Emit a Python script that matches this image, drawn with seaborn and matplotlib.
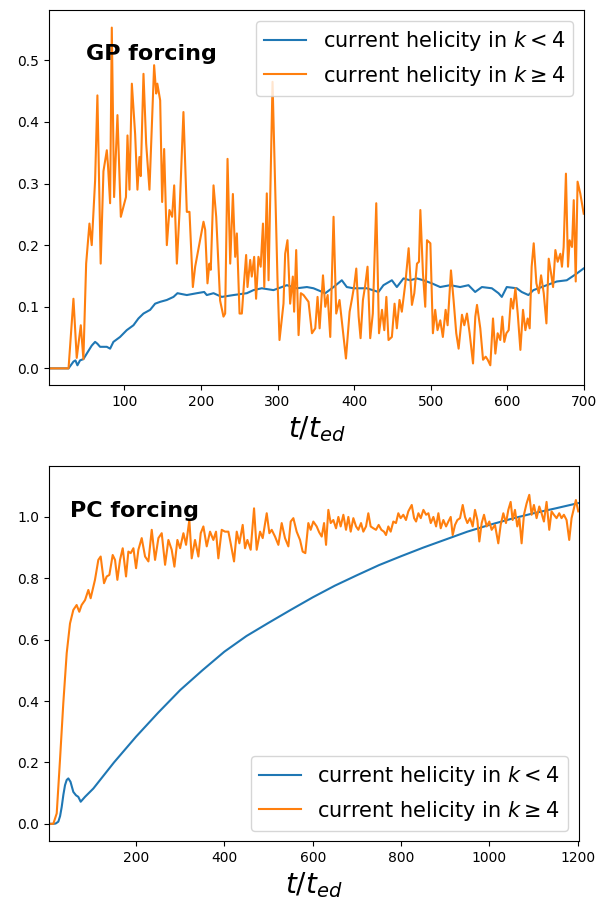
import matplotlib
matplotlib.use("Agg")
import matplotlib.pyplot as plt
import seaborn as sns
import pandas as pd

# ---- GP forcing run: (t/t_ed, current helicity) ----
gp_small_k = [
    (1.5, 0.0), (10, 0.0), (20, 0.0), (27, 0.0), (33.4, 0.011), (36, 0.013), (38.6, 0.005),
    (42, 0.013), (46.4, 0.015), (50.8, 0.024), (57.3, 0.037), (61.7, 0.043), (64.7, 0.040),
    (68.2, 0.035), (77, 0.035), (81.3, 0.032), (85.6, 0.043), (94.3, 0.051), (103, 0.062),
    (111.8, 0.070), (118.3, 0.081), (124.9, 0.089), (133.6, 0.095), (140.1, 0.105),
    (146.7, 0.108), (155.4, 0.111), (164.1, 0.116), (169.3, 0.122), (181.5, 0.119),
    (194.6, 0.122), (204.2, 0.124), (207.6, 0.119), (216.4, 0.122), (227.2, 0.116),
    (242.5, 0.119), (259.9, 0.122), (268.6, 0.127), (279.5, 0.130), (294.7, 0.127),
    (312.2, 0.135), (325.2, 0.130), (338.4, 0.132), (347, 0.130), (362.4, 0.122),
    (373.2, 0.132), (384, 0.143), (390.5, 0.132), (399.3, 0.130), (416.7, 0.130),
    (431.9, 0.124), (438.4, 0.135), (449.4, 0.143), (455.9, 0.132), (464.6, 0.146),
    (473.2, 0.143), (482, 0.146), (490.6, 0.143), (501.6, 0.138), (512.5, 0.132),
    (525.5, 0.135), (538.6, 0.132), (549.5, 0.135), (558.2, 0.124), (567, 0.132),
    (580, 0.130), (588.7, 0.122), (593, 0.116), (599.5, 0.132), (612.6, 0.130),
    (619, 0.124), (627.8, 0.119), (634.3, 0.127), (651.7, 0.135), (664.8, 0.141),
    (677.9, 0.143), (691, 0.154), (699.7, 0.162),
]

gp_large_k = [
    (1.5, 0.0), (10, 0.0), (20, 0.0), (27, 0.0), (33.4, 0.113), (37.7, 0.017), (43, 0.070),
    (46.4, 0.015), (50, 0.170), (54.3, 0.235), (57.3, 0.200), (61.7, 0.305), (64.7, 0.443),
    (69, 0.170), (72.6, 0.320), (77, 0.354), (78.5, 0.330), (81.3, 0.268), (83.5, 0.553),
    (86.5, 0.278), (90.9, 0.411), (95.3, 0.246), (102, 0.278), (104, 0.378), (106.6, 0.290),
    (109.7, 0.462), (114, 0.380), (117, 0.290), (119.6, 0.343), (121.3, 0.312),
    (124.9, 0.478), (128.4, 0.365), (132.7, 0.290), (138.8, 0.492), (141.5, 0.446),
    (143, 0.462), (146.7, 0.435), (149.3, 0.270), (151.9, 0.356), (155.4, 0.200),
    (158.8, 0.257), (162.3, 0.246), (165, 0.297), (168.5, 0.170), (172, 0.254),
    (177.1, 0.416), (181.5, 0.254), (185, 0.254), (189.4, 0.132), (192.4, 0.165),
    (203.3, 0.238), (205.5, 0.225), (208.5, 0.138), (211, 0.170), (212.8, 0.160),
    (216.4, 0.297), (219.9, 0.246), (225, 0.110), (229.4, 0.084), (231.6, 0.089),
    (234.7, 0.340), (238.2, 0.170), (241.7, 0.283), (244.7, 0.181), (246.9, 0.219),
    (250.4, 0.089), (253.4, 0.089), (256.5, 0.143), (259, 0.184), (260.8, 0.132),
    (264.3, 0.176), (266.4, 0.149), (269.5, 0.181), (272, 0.113), (275.1, 0.181),
    (278, 0.165), (281, 0.235), (282.7, 0.132), (286, 0.284), (288.3, 0.143),
    (293.5, 0.465), (297, 0.292), (300, 0.143), (302.6, 0.046), (307.8, 0.105),
    (310, 0.186), (313, 0.208), (316.5, 0.105), (320, 0.149), (321.7, 0.092),
    (324.4, 0.192), (327.5, 0.054), (330.5, 0.122), (334, 0.119), (340.5, 0.108),
    (345, 0.057), (349.3, 0.065), (352.3, 0.116), (355, 0.065), (359.4, 0.151),
    (362.4, 0.100), (365.5, 0.119), (368.9, 0.051), (373.2, 0.246), (376.7, 0.089),
    (381, 0.111), (385.4, 0.062), (389.4, 0.016), (394.2, 0.092), (397.3, 0.113),
    (400.3, 0.135), (402.9, 0.162), (406, 0.084), (408.5, 0.049), (411.6, 0.111),
    (414.6, 0.135), (417.6, 0.165), (421.1, 0.049), (424.5, 0.089), (429, 0.268),
    (432.6, 0.057), (436.5, 0.095), (439.5, 0.062), (442.2, 0.116), (445, 0.046),
    (449.4, 0.051), (452.9, 0.105), (455.9, 0.065), (459.4, 0.111), (462.4, 0.092),
    (467, 0.138), (471.3, 0.195), (475.6, 0.103), (478.7, 0.122), (482.2, 0.170),
    (484.8, 0.173), (486.6, 0.257), (490, 0.154), (493, 0.100), (495.3, 0.208),
    (499.7, 0.203), (503, 0.057), (506, 0.095), (509, 0.062), (512.6, 0.078),
    (516, 0.051), (519.6, 0.095), (522.2, 0.070), (526.6, 0.159), (530, 0.111),
    (533.5, 0.057), (536.6, 0.032), (541, 0.087), (544, 0.070), (547.5, 0.089),
    (551, 0.057), (555.4, 0.008), (558.4, 0.084), (560.6, 0.103), (564.9, 0.065),
    (568.5, 0.014), (572, 0.019), (574.6, 0.014), (578, 0.005), (581.5, 0.081),
    (584.6, 0.024), (587.6, 0.057), (591, 0.046), (593.7, 0.084), (596.3, 0.043),
    (599, 0.057), (602, 0.062), (605, 0.113), (607.7, 0.097), (610.8, 0.130),
    (613.8, 0.089), (617.3, 0.030), (620.7, 0.095), (623.8, 0.062), (626.8, 0.081),
    (629.4, 0.065), (632, 0.165), (634.7, 0.203), (638.2, 0.138), (641.3, 0.122),
    (644.3, 0.151), (647.8, 0.122), (651.3, 0.073), (654.3, 0.178), (657.4, 0.154),
    (660, 0.132), (663, 0.192), (666, 0.173), (669.5, 0.186), (671.6, 0.165),
    (673.8, 0.197), (676.8, 0.316), (679.5, 0.165), (681.6, 0.208), (684.7, 0.197),
    (687, 0.273), (689.6, 0.141), (692, 0.303), (695.5, 0.284), (700, 0.251),
]

# ---- PC forcing run ----
pc_small_k = [
    (2.3, 0.0), (8, 0.0), (12.7, 0.0), (18, 0.001), (24, 0.007), (28, 0.025), (31.7, 0.055),
    (35.5, 0.095), (39.2, 0.126), (43, 0.143), (46.7, 0.148), (51.6, 0.137), (58, 0.104),
    (64, 0.093), (69.2, 0.088), (74.7, 0.072), (84.5, 0.088), (103.3, 0.115), (150, 0.200),
    (200, 0.284), (250, 0.362), (300, 0.436), (350, 0.500), (400, 0.561), (450, 0.612),
    (500, 0.655), (550, 0.697), (600, 0.738), (650, 0.776), (700, 0.810), (750, 0.843),
    (800, 0.872), (850, 0.900), (900, 0.926), (950, 0.952), (1000, 0.974), (1050, 0.994),
    (1100, 1.012), (1150, 1.028), (1201, 1.045),
]

pc_large_k = [
    (2.3, 0.0), (8, 0.0), (12.7, 0.0), (20.4, 0.034), (27.8, 0.208), (35.3, 0.393),
    (43, 0.556), (50.5, 0.653), (58, 0.697), (65.5, 0.713), (71.5, 0.691), (76.8, 0.713),
    (84.5, 0.729), (92, 0.762), (97.2, 0.735), (107, 0.795), (114.6, 0.860), (119.9, 0.871),
    (127.5, 0.784), (133.6, 0.806), (139.6, 0.811), (147.1, 0.876), (152.4, 0.860),
    (157.7, 0.795), (163.7, 0.860), (169.8, 0.898), (177.3, 0.806), (182.6, 0.887),
    (187.9, 0.882), (194, 0.898), (200, 0.833), (205.3, 0.893), (212.8, 0.931),
    (220.4, 0.871), (228, 0.855), (235.5, 0.958), (243, 0.860), (250.6, 0.931),
    (258.1, 0.947), (265.7, 0.844), (273.2, 0.925), (280.7, 0.893), (286.8, 0.838),
    (293.6, 0.925), (299.7, 0.898), (307.2, 0.947), (313.2, 0.909), (320.6, 0.990),
    (326, 0.865), (333.5, 0.925), (341.1, 0.871), (346.4, 0.947), (352.4, 0.969),
    (360, 0.904), (367.5, 0.952), (375, 0.925), (381, 0.952), (386.3, 0.865),
    (393.9, 0.958), (401.4, 0.952), (409, 0.952), (414.2, 0.914), (421.8, 0.855),
    (427.9, 0.952), (433.9, 0.914), (441.4, 0.974), (446.7, 0.898), (452, 0.925),
    (459.5, 0.893), (467.1, 1.028), (473.1, 0.893), (480.7, 0.952), (486.7, 0.931),
    (495.8, 1.012), (501.8, 0.947), (507.1, 0.958), (514.6, 0.936), (522.2, 0.909),
    (529.7, 0.980), (537.2, 0.931), (544.8, 0.904), (550.1, 0.985), (556.1, 0.996),
    (563.6, 0.952), (571.2, 0.925), (577.2, 0.887), (583.2, 0.882), (590, 0.980),
    (595.3, 0.958), (601.3, 0.985), (608.9, 0.969), (614.5, 0.950), (620.3, 0.936),
    (625.6, 0.980), (630.1, 0.909), (635.3, 1.023), (640.6, 0.980), (646.6, 0.990),
    (652.7, 0.963), (658, 1.000), (663.2, 0.969), (669.3, 1.007), (675.3, 0.958),
    (680.6, 1.000), (685.9, 0.952), (691.9, 0.996), (698, 0.969), (703.2, 0.958),
    (709.3, 0.980), (714.5, 0.952), (720.6, 0.969), (725.8, 1.012), (731.1, 0.969),
    (737.2, 0.963), (743.2, 0.958), (749.2, 0.974), (755.3, 0.958), (761.3, 0.952),
    (765.8, 0.941), (771.1, 0.969), (776.4, 0.952), (782.4, 0.985), (788.4, 0.980),
    (793.7, 1.012), (799, 0.996), (805, 1.007), (811, 0.990), (816.3, 1.018),
    (824.1, 1.039), (829.4, 0.996), (833.9, 0.985), (839.2, 1.012), (844.5, 0.996),
    (850.5, 1.023), (856.6, 1.007), (861.8, 1.012), (867.1, 0.980), (873.1, 1.000),
    (879.2, 0.969), (884.4, 1.012), (889.7, 0.963), (895.7, 0.990), (901.8, 0.969),
    (907, 0.985), (912.3, 1.000), (916.8, 0.941), (922.1, 0.974), (927.4, 0.990),
    (933.4, 0.996), (939.5, 1.039), (944.7, 1.000), (950, 0.980), (956, 0.996),
    (962.1, 0.969), (967.3, 1.023), (972.6, 0.990), (977.1, 0.920), (982.4, 0.980),
    (987.7, 1.007), (993.7, 0.969), (999.7, 0.985), (1005, 0.958), (1012.5, 0.974),
    (1020, 0.914), (1025.4, 0.974), (1031.4, 1.012), (1037.4, 0.980), (1042.7, 1.023),
    (1048, 1.049), (1052.5, 0.990), (1057.8, 1.023), (1063, 0.969), (1067.6, 0.996),
    (1072.8, 0.914), (1078.1, 1.007), (1084.1, 1.044), (1090.2, 1.072), (1095.4, 1.007),
    (1100.7, 1.039), (1106.7, 0.996), (1112.8, 1.034), (1118, 1.012), (1123.3, 0.985),
    (1129.3, 1.049), (1135.4, 0.958), (1140.6, 1.018), (1145.9, 1.007), (1151.9, 0.996),
    (1158, 1.012), (1163.2, 0.996), (1168.5, 1.007), (1174.6, 0.990), (1180.6, 0.925),
    (1185.9, 0.996), (1191.2, 1.028), (1195.7, 1.055), (1201, 1.018),
]

label_small = r"current helicity in $k < 4$"
label_large = r"current helicity in $k \geq 4$"
blue, orange = "#1f77b4", "#ff7f0e"


def frame(pairs):
    return pd.DataFrame(pairs, columns=["t", "h"])


fig = plt.figure(figsize=(6.06, 9.0), dpi=100)
ax1 = fig.add_axes([0.0809, 0.5722, 0.8823, 0.4163])
ax2 = fig.add_axes([0.0804, 0.0652, 0.8743, 0.4167])

# top panel
sns.lineplot(data=frame(gp_small_k), x="t", y="h", ax=ax1, color=blue,
             label=label_small, linewidth=1.5, estimator=None, sort=False)
sns.lineplot(data=frame(gp_large_k), x="t", y="h", ax=ax1, color=orange,
             label=label_large, linewidth=1.5, estimator=None, sort=False)
ax1.set_xlim(1.5, 700)
ax1.set_ylim(-0.027, 0.581)
ax1.set_xticks([100, 200, 300, 400, 500, 600, 700])
ax1.set_yticks([0.0, 0.1, 0.2, 0.3, 0.4, 0.5])
ax1.set_xlabel(r"$t/t_{ed}$", fontsize=20)
ax1.set_ylabel("")
ax1.text(50, 0.5, "GP forcing", fontsize=16, fontweight="bold")
ax1.legend(loc="upper right", fontsize=15)

# bottom panel
sns.lineplot(data=frame(pc_small_k), x="t", y="h", ax=ax2, color=blue,
             label=label_small, linewidth=1.5, estimator=None, sort=False)
sns.lineplot(data=frame(pc_large_k), x="t", y="h", ax=ax2, color=orange,
             label=label_large, linewidth=1.5, estimator=None, sort=False)
ax2.set_xlim(2.3, 1201.7)
ax2.set_ylim(-0.057, 1.165)
ax2.set_xticks([200, 400, 600, 800, 1000, 1200])
ax2.set_yticks([0.0, 0.2, 0.4, 0.6, 0.8, 1.0])
ax2.set_xlabel(r"$t/t_{ed}$", fontsize=20)
ax2.set_ylabel("")
ax2.text(50, 1.0, "PC forcing", fontsize=16, fontweight="bold")
ax2.legend(loc="lower right", fontsize=15)

for ax in (ax1, ax2):
    ax.tick_params(labelsize=10)

fig.savefig("out.png", dpi=100)
